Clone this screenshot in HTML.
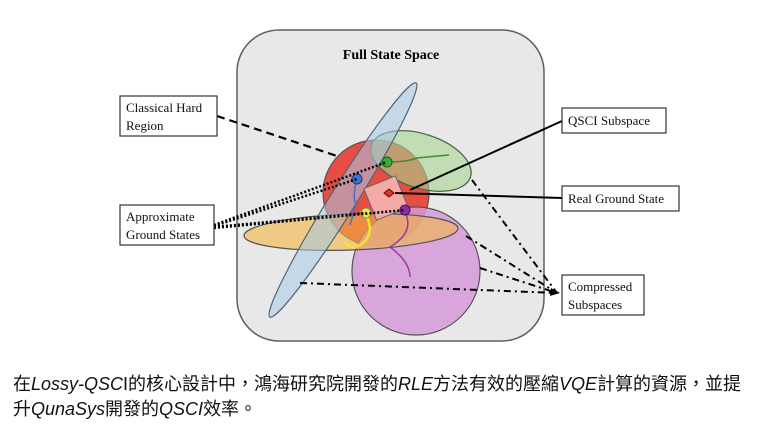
<!DOCTYPE html>
<html><head><meta charset="utf-8"><style>
body{margin:0;background:#fff;width:768px;height:437px;overflow:hidden;position:relative}
svg{position:absolute;left:0;top:0}
.t{position:absolute;left:13px;font:18px "Liberation Sans","Noto Sans CJK TC",sans-serif;color:#111;line-height:25px;white-space:nowrap}
i{font-style:italic}
</style></head><body>
<svg width="768" height="437" viewBox="0 0 768 437" font-family="Liberation Serif, serif">
<rect x="237" y="30" width="307" height="311" rx="42" fill="#e8e8e8" stroke="#55606a" stroke-width="1.5"/>
<text x="391" y="59" font-size="14" font-weight="bold" text-anchor="middle">Full State Space</text>
<circle cx="376" cy="193" r="53" fill="#e8453a" fill-opacity="0.95" stroke="#555" stroke-width="1.2"/>
<ellipse cx="421" cy="161" rx="52" ry="27" transform="rotate(18 421 161)" fill="#a9d38f" fill-opacity="0.6" stroke="#4a6a48" stroke-width="1.3"/>
<circle cx="416" cy="271" r="64" fill="#d69ad8" fill-opacity="0.85" stroke="#555" stroke-width="1.2"/>
<ellipse cx="351" cy="232" rx="107" ry="18" transform="rotate(-2 351 232)" fill="#f2b642" fill-opacity="0.6" stroke="#555" stroke-width="1.2"/>
<ellipse cx="343" cy="200" rx="138" ry="13" transform="rotate(-58 343 200)" fill="#a8cbe6" fill-opacity="0.55" stroke="#4f6578" stroke-width="1.2"/>
<path d="M366 215 q10 20 -6 30 q-10 5 -16 -4" fill="none" stroke="#f4e034" stroke-width="2.5"/>
<path d="M357 180 q-5 15 -1 25 q-3 10 -6 20" fill="none" stroke="#4a72c9" stroke-width="1.5"/>
<path d="M405 212 q10 20 -15 35 q20 15 20 30" fill="none" stroke="#9a3aa0" stroke-width="1.5"/>
<path d="M387 162 q20 0 30 -4 q20 -2 32 -3" fill="none" stroke="#4a8a30" stroke-width="1.5"/>
<rect x="369" y="181" width="34" height="34" transform="rotate(-22 386 198)" fill="#f4aaa6" stroke="#666" stroke-width="1"/>
<path d="M384 193 l5 -4 5 4 -5 4z" fill="#d33" stroke="#700" stroke-width="1"/>
<circle cx="387" cy="162" r="5" fill="#38b030" stroke="#1b6018"/>
<circle cx="357" cy="179" r="5" fill="#3b74d4" stroke="#1b3a80"/>
<circle cx="366" cy="213" r="5" fill="#f4ee2a" stroke="#888"/>
<circle cx="405" cy="210" r="5" fill="#8a2ea0" stroke="#4a1060"/>
<g stroke="#000" fill="none">
<line x1="217" y1="116" x2="340" y2="157" stroke-width="2.2" stroke-dasharray="8 5"/>
<g stroke-width="2.5" stroke-dasharray="2 2">
<line x1="214" y1="225" x2="387" y2="162"/>
<line x1="214" y1="226" x2="357" y2="179"/>
<line x1="214" y1="227" x2="366" y2="213"/>
<line x1="214" y1="228" x2="405" y2="210"/>
</g>
<line x1="562" y1="121" x2="410" y2="190" stroke-width="2"/>
<line x1="562" y1="198" x2="395" y2="193" stroke-width="2"/>
<g stroke-width="2" stroke-dasharray="7 4 2 4">
<line x1="472" y1="180" x2="557" y2="293"/>
<line x1="466" y1="236" x2="557" y2="293"/>
<line x1="480" y1="268" x2="557" y2="293"/>
<line x1="300" y1="283" x2="557" y2="293"/>
</g>
</g>
<path d="M551 288 l9 5 -10 3z" fill="#000"/>
<g fill="#fff" stroke="#333" stroke-width="1.2">
<rect x="120" y="96" width="97" height="40"/>
<rect x="120" y="205" width="94" height="40"/>
<rect x="562" y="108" width="104" height="25"/>
<rect x="562" y="186" width="117" height="25"/>
<rect x="562" y="275" width="82" height="40"/>
</g>
<g font-size="13" fill="#111">
<text x="126" y="112">Classical Hard</text><text x="126" y="130">Region</text>
<text x="126" y="221">Approximate</text><text x="126" y="239">Ground States</text>
<text x="568" y="125">QSCI Subspace</text>
<text x="568" y="203">Real Ground State</text>
<text x="568" y="291">Compressed</text><text x="568" y="309">Subspaces</text>
</g>
</svg>
<div class="t" style="top:372px">在<i>Lossy-QSC</i>I的核心設計中，鴻海研究院開發的<i>RLE</i>方法有效的壓縮<i>VQE</i>計算的資源，並提</div>
<div class="t" style="top:397px">升<i>QunaSys</i>開發的<i>QSCI</i>效率。</div>
</body></html>
